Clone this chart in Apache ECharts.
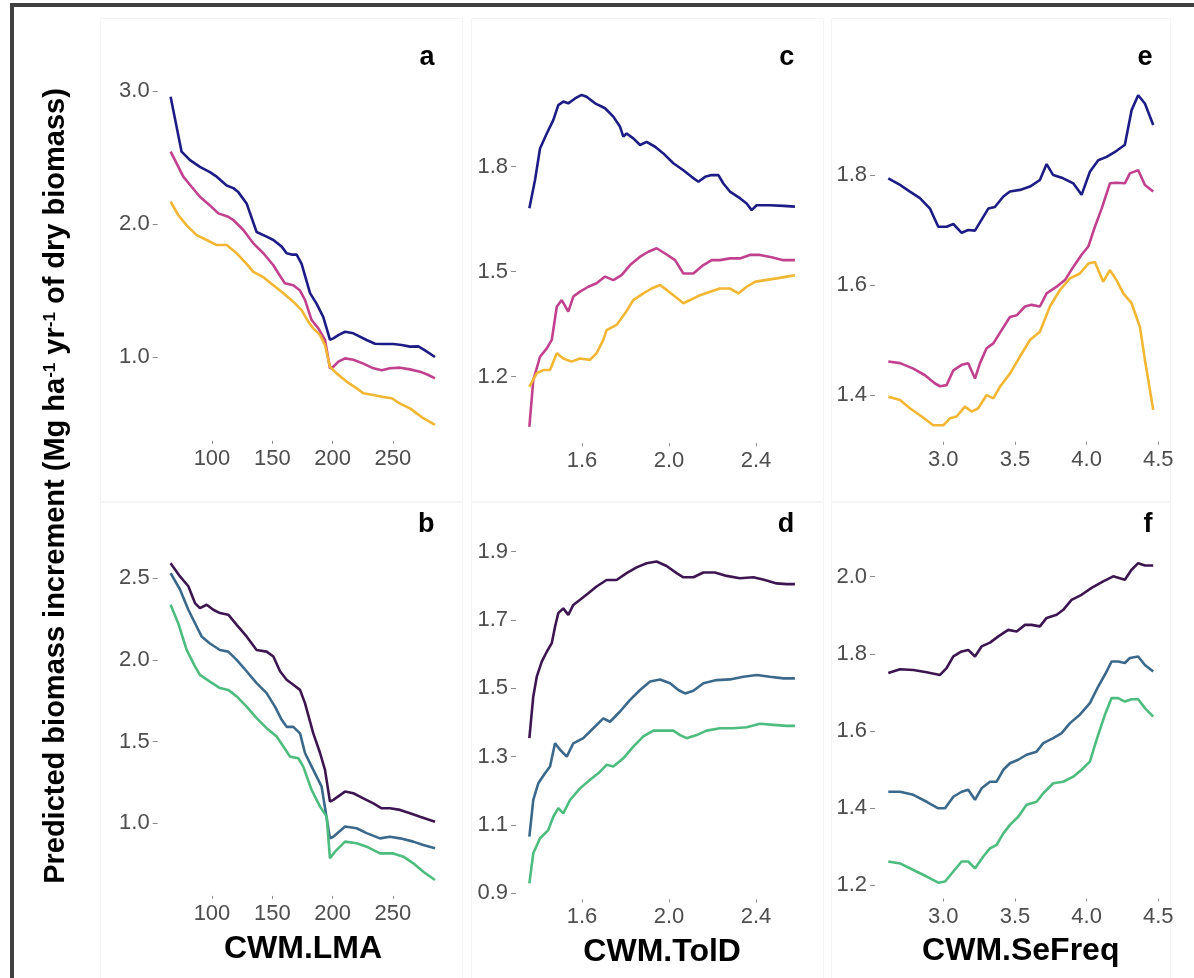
<!DOCTYPE html>
<html>
<head>
<meta charset="utf-8">
<script src="https://cdn.jsdelivr.net/npm/echarts@6/dist/echarts.min.js"></script>
<style>
  html, body { margin: 0; padding: 0; background: #ffffff; }
  #chart { width: 1194px; height: 978px; }
</style>
</head>
<body>
<div id="chart"></div>
<script>
// Predicted biomass increment along three community-weighted traits.
// Top row (a, c, e): three levels in a plasma palette; bottom row (b, d, f): viridis.

const yTitle = 'Predicted biomass increment (Mg ha{sup|-1} yr{sup|-1} of dry biomass)';
const xTitles = ['CWM.LMA', 'CWM.TolD', 'CWM.SeFreq'];
const panelLetters = ['a', 'b', 'c', 'd', 'e', 'f'];

const topColors = ['#1d1c86', '#c2418f', '#f2b633'];
const bottomColors = ['#3d1651', '#3a698c', '#4cbd7e'];

// tick labels
const lmaTicks = [100, 150, 200, 250];
const tolTicks = [1.6, 2.0, 2.4];
const seTicks = [3.0, 3.5, 4.0, 4.5];
const aYTicks = [1.0, 2.0, 3.0];
const bYTicks = [1.0, 1.5, 2.0, 2.5];
const cYTicks = [1.2, 1.5, 1.8];
const dYTicks = [0.9, 1.1, 1.3, 1.5, 1.7, 1.9];
const eYTicks = [1.4, 1.6, 1.8];
const fYTicks = [1.2, 1.4, 1.6, 1.8, 2.0];

// panel a : CWM.LMA
const aNavy = [[65.7,2.957],[74.8,2.544],[81.8,2.48],[90,2.43],[98.3,2.39],[103.9,2.356],[112.2,2.29],[117.7,2.27],[121.8,2.24],[128.7,2.155],[137,1.94],[145.3,1.905],[150.9,1.88],[157.8,1.83],[161.9,1.78],[166,1.77],[170.2,1.77],[174.3,1.70],[181.3,1.48],[186.8,1.40],[192.3,1.30],[197.8,1.13],[200.6,1.14],[204.8,1.165],[210.3,1.19],[217.2,1.178],[228.2,1.128],[235.2,1.10],[242.1,1.098],[250.4,1.098],[257.3,1.09],[264.2,1.078],[271.1,1.08],[276.6,1.05],[284.9,1.0]];
const aMagenta = [[65.7,2.544],[70.7,2.456],[76.2,2.356],[83.1,2.28],[90,2.205],[98.3,2.14],[105.3,2.08],[113.5,2.055],[117.7,2.03],[126,1.955],[134.3,1.855],[142.6,1.78],[150.9,1.69],[155,1.63],[160.5,1.554],[167.4,1.54],[173,1.50],[177.1,1.43],[182.6,1.278],[188.2,1.215],[193.7,1.128],[197.8,0.915],[200.6,0.927],[204.8,0.965],[210.3,0.99],[217.2,0.98],[225.5,0.95],[233.8,0.915],[240.7,0.90],[247.6,0.915],[255.9,0.92],[264.2,0.907],[272.5,0.89],[279.4,0.865],[284.9,0.84]];
const aYellow = [[65.7,2.168],[72,2.068],[79,1.99],[87.3,1.917],[95.6,1.88],[103.9,1.842],[112.2,1.842],[120.5,1.78],[128.7,1.70],[134.3,1.64],[142.6,1.60],[150.9,1.54],[159.2,1.48],[167.4,1.416],[174.3,1.353],[179.8,1.266],[184,1.215],[189.6,1.165],[193.7,1.09],[197.8,0.927],[203.3,0.877],[211.6,0.815],[220,0.764],[225.5,0.727],[233.8,0.714],[242.1,0.70],[249,0.69],[255.9,0.65],[264.2,0.614],[269.7,0.576],[275.2,0.54],[284.9,0.49]];

// panel b : CWM.LMA
const bPurple = [[65.7,2.59],[73.5,2.51],[80.4,2.45],[85.9,2.347],[90,2.316],[95.6,2.337],[101.1,2.306],[106.6,2.286],[113.5,2.276],[120.5,2.214],[128.7,2.143],[137,2.06],[145.3,2.05],[150.9,2.02],[156.4,1.93],[161.9,1.878],[167.4,1.847],[173,1.816],[177.1,1.735],[184,1.55],[189.6,1.43],[193.7,1.327],[197.8,1.133],[200.6,1.143],[210.3,1.194],[217.2,1.184],[225.5,1.153],[233.8,1.122],[240.7,1.092],[247.6,1.092],[255.9,1.082],[264.2,1.061],[272.5,1.04],[284.9,1.01]];
const bBlue = [[65.7,2.53],[73.5,2.43],[80.4,2.306],[87.3,2.204],[91.4,2.143],[98.3,2.10],[106.6,2.06],[113.5,2.05],[120.5,2.0],[128.7,1.93],[137,1.857],[145.3,1.796],[152.2,1.714],[157.8,1.633],[161.9,1.59],[167.4,1.59],[173,1.55],[177.1,1.43],[184,1.327],[190.9,1.224],[197.8,0.908],[200.6,0.918],[210.3,0.98],[219.9,0.97],[228.2,0.94],[239.3,0.908],[247.6,0.918],[255.9,0.908],[266.9,0.888],[275.2,0.867],[284.9,0.847]];
const bGreen = [[65.7,2.337],[72,2.224],[79,2.061],[85.9,1.96],[90,1.908],[98.3,1.867],[106.6,1.827],[113.5,1.816],[120.5,1.776],[128.7,1.714],[137,1.643],[145.3,1.582],[153.6,1.531],[159.2,1.47],[164.7,1.408],[171.6,1.398],[175.7,1.347],[182.6,1.204],[189.6,1.102],[195.1,1.041],[197.8,0.786],[202,0.827],[210.3,0.888],[219.9,0.878],[228.2,0.857],[239.3,0.816],[250.4,0.816],[258.7,0.796],[266.9,0.755],[275.2,0.704],[284.9,0.653]];

// panel c : CWM.TolD
const cNavy = [[1.358,1.681],[1.384,1.762],[1.407,1.852],[1.438,1.895],[1.468,1.933],[1.491,1.976],[1.514,1.986],[1.537,1.981],[1.568,1.995],[1.598,2.005],[1.621,2.0],[1.66,1.981],[1.706,1.967],[1.744,1.943],[1.775,1.914],[1.79,1.886],[1.805,1.895],[1.836,1.881],[1.867,1.862],[1.897,1.871],[1.936,1.857],[1.974,1.838],[2.02,1.81],[2.066,1.79],[2.104,1.771],[2.135,1.757],[2.166,1.771],[2.196,1.776],[2.227,1.776],[2.25,1.752],[2.28,1.729],[2.326,1.71],[2.357,1.695],[2.38,1.676],[2.403,1.69],[2.464,1.69],[2.526,1.688],[2.579,1.686]];
const cMagenta = [[1.358,1.057],[1.376,1.19],[1.407,1.257],[1.438,1.281],[1.461,1.305],[1.484,1.40],[1.507,1.419],[1.537,1.386],[1.56,1.429],[1.591,1.443],[1.629,1.457],[1.667,1.467],[1.706,1.486],[1.744,1.476],[1.782,1.49],[1.821,1.519],[1.867,1.543],[1.905,1.557],[1.943,1.567],[1.982,1.552],[2.028,1.533],[2.066,1.495],[2.112,1.495],[2.158,1.519],[2.196,1.533],[2.234,1.533],[2.28,1.538],[2.326,1.538],[2.372,1.548],[2.418,1.548],[2.472,1.541],[2.526,1.533],[2.579,1.533]];
const cYellow = [[1.358,1.171],[1.392,1.21],[1.422,1.219],[1.453,1.219],[1.484,1.267],[1.514,1.252],[1.552,1.243],[1.591,1.252],[1.637,1.248],[1.667,1.267],[1.698,1.305],[1.713,1.333],[1.759,1.348],[1.798,1.381],[1.836,1.419],[1.882,1.438],[1.92,1.452],[1.959,1.462],[1.989,1.448],[2.028,1.429],[2.066,1.41],[2.097,1.419],[2.143,1.433],[2.189,1.443],[2.234,1.452],[2.28,1.452],[2.319,1.438],[2.357,1.457],[2.395,1.471],[2.441,1.476],[2.495,1.481],[2.541,1.486],[2.579,1.49]];

// panel d : CWM.TolD
const dPurple = [[1.358,1.354],[1.376,1.476],[1.392,1.534],[1.415,1.578],[1.438,1.607],[1.461,1.632],[1.476,1.68],[1.491,1.72],[1.514,1.734],[1.537,1.715],[1.56,1.744],[1.591,1.759],[1.629,1.778],[1.667,1.798],[1.713,1.817],[1.759,1.817],[1.805,1.837],[1.851,1.854],[1.897,1.866],[1.943,1.871],[1.989,1.858],[2.035,1.837],[2.066,1.825],[2.112,1.825],[2.158,1.839],[2.211,1.839],[2.265,1.829],[2.326,1.822],[2.388,1.825],[2.441,1.817],[2.495,1.807],[2.541,1.805],[2.579,1.805]];
const dBlue = [[1.358,1.066],[1.376,1.173],[1.399,1.222],[1.43,1.251],[1.453,1.271],[1.476,1.339],[1.499,1.32],[1.53,1.30],[1.56,1.339],[1.606,1.354],[1.652,1.383],[1.698,1.412],[1.729,1.402],[1.775,1.432],[1.821,1.466],[1.867,1.495],[1.913,1.52],[1.959,1.526],[2.005,1.515],[2.043,1.495],[2.074,1.485],[2.112,1.493],[2.158,1.515],[2.219,1.524],[2.28,1.526],[2.342,1.534],[2.403,1.539],[2.464,1.534],[2.526,1.529],[2.579,1.529]];
const dGreen = [[1.358,0.929],[1.376,1.017],[1.407,1.061],[1.445,1.085],[1.468,1.124],[1.491,1.149],[1.514,1.134],[1.545,1.173],[1.591,1.207],[1.637,1.232],[1.675,1.251],[1.713,1.276],[1.744,1.271],[1.79,1.295],[1.836,1.329],[1.882,1.359],[1.928,1.376],[1.974,1.376],[2.02,1.376],[2.051,1.363],[2.081,1.354],[2.127,1.363],[2.173,1.376],[2.234,1.383],[2.296,1.383],[2.357,1.386],[2.418,1.396],[2.48,1.393],[2.541,1.39],[2.579,1.39]];

// panel e : CWM.SeFreq
const eNavy = [[2.616,1.794],[2.698,1.782],[2.767,1.77],[2.837,1.758],[2.907,1.739],[2.965,1.706],[3.023,1.706],[3.07,1.711],[3.128,1.695],[3.174,1.70],[3.221,1.699],[3.279,1.724],[3.314,1.739],[3.36,1.742],[3.419,1.761],[3.465,1.77],[3.535,1.773],[3.605,1.779],[3.674,1.791],[3.721,1.82],[3.767,1.80],[3.837,1.794],[3.907,1.785],[3.965,1.764],[4.023,1.806],[4.081,1.827],[4.14,1.833],[4.198,1.842],[4.267,1.855],[4.314,1.918],[4.36,1.945],[4.407,1.93],[4.465,1.891]];
const eMagenta = [[2.616,1.461],[2.698,1.458],[2.791,1.448],[2.872,1.436],[2.942,1.421],[2.977,1.416],[3.023,1.418],[3.07,1.445],[3.128,1.455],[3.174,1.458],[3.221,1.43],[3.256,1.458],[3.302,1.485],[3.349,1.494],[3.407,1.518],[3.465,1.542],[3.512,1.545],[3.57,1.561],[3.616,1.564],[3.674,1.561],[3.721,1.585],[3.791,1.597],[3.849,1.609],[3.907,1.633],[3.965,1.655],[4.012,1.67],[4.058,1.706],[4.105,1.739],[4.163,1.785],[4.209,1.786],[4.267,1.785],[4.302,1.803],[4.36,1.809],[4.407,1.782],[4.465,1.77]];
const eYellow = [[2.616,1.397],[2.698,1.391],[2.767,1.376],[2.849,1.361],[2.93,1.345],[3.0,1.345],[3.047,1.358],[3.093,1.361],[3.151,1.379],[3.198,1.37],[3.244,1.376],[3.302,1.40],[3.349,1.394],[3.395,1.415],[3.465,1.439],[3.535,1.47],[3.605,1.50],[3.674,1.515],[3.744,1.561],[3.814,1.591],[3.884,1.612],[3.953,1.621],[4.012,1.639],[4.058,1.642],[4.116,1.606],[4.163,1.627],[4.209,1.609],[4.256,1.585],[4.314,1.567],[4.372,1.524],[4.407,1.464],[4.465,1.373]];

// panel f : CWM.SeFreq
const fPurple = [[2.616,1.75],[2.698,1.76],[2.791,1.758],[2.884,1.752],[2.977,1.745],[3.023,1.763],[3.07,1.793],[3.128,1.806],[3.174,1.81],[3.221,1.793],[3.267,1.819],[3.326,1.829],[3.384,1.845],[3.453,1.862],[3.512,1.858],[3.57,1.875],[3.616,1.875],[3.674,1.871],[3.721,1.893],[3.791,1.901],[3.837,1.914],[3.895,1.94],[3.965,1.953],[4.035,1.971],[4.116,1.988],[4.186,2.001],[4.267,1.992],[4.314,2.018],[4.36,2.035],[4.407,2.029],[4.465,2.029]];
const fBlue = [[2.616,1.442],[2.698,1.442],[2.791,1.434],[2.884,1.416],[2.965,1.399],[3.012,1.399],[3.07,1.429],[3.128,1.442],[3.174,1.447],[3.221,1.421],[3.267,1.451],[3.326,1.468],[3.372,1.468],[3.419,1.499],[3.465,1.516],[3.523,1.525],[3.581,1.538],[3.651,1.546],[3.698,1.568],[3.767,1.581],[3.826,1.594],[3.884,1.62],[3.953,1.642],[4.023,1.672],[4.081,1.715],[4.14,1.754],[4.174,1.78],[4.221,1.78],[4.267,1.776],[4.302,1.789],[4.36,1.793],[4.407,1.771],[4.465,1.754]];
const fGreen = [[2.616,1.261],[2.698,1.256],[2.791,1.239],[2.884,1.222],[2.965,1.206],[3.012,1.209],[3.07,1.235],[3.128,1.261],[3.174,1.261],[3.221,1.243],[3.279,1.274],[3.326,1.295],[3.372,1.304],[3.419,1.334],[3.465,1.356],[3.523,1.377],[3.581,1.408],[3.651,1.416],[3.698,1.438],[3.767,1.464],[3.837,1.468],[3.907,1.481],[3.965,1.499],[4.023,1.52],[4.07,1.577],[4.128,1.642],[4.174,1.685],[4.221,1.685],[4.267,1.676],[4.314,1.682],[4.36,1.682],[4.407,1.659],[4.465,1.637]];

// Panel layout: grid box in pixels plus the (expanded) axis ranges.
const panels = [
  { letter: 'a', grid: [157.7, 80.4, 290.7, 360.4], x: [55, 296], y: [0.37, 3.08], xTicks: lmaTicks, yTicks: aYTicks, xDec: 0, lines: [aNavy, aMagenta, aYellow], colors: topColors, title: null },
  { letter: 'b', grid: [157.7, 547.5, 290.7, 348.4], x: [55, 296], y: [0.556, 2.687], xTicks: lmaTicks, yTicks: bYTicks, xDec: 0, lines: [bPurple, bBlue, bGreen], colors: bottomColors, title: xTitles[0] },
  { letter: 'c', grid: [516.1, 78.5, 292.1, 364.7], x: [1.297, 2.64], y: [1.01, 2.052], xTicks: tolTicks, yTicks: cYTicks, xDec: 1, lines: [cNavy, cMagenta, cYellow], colors: topColors, title: null },
  { letter: 'd', grid: [516.1, 545.5, 292.1, 353.9], x: [1.297, 2.64], y: [0.882, 1.918], xTicks: tolTicks, yTicks: dYTicks, xDec: 1, lines: [dPurple, dBlue, dGreen], colors: bottomColors, title: xTitles[1] },
  { letter: 'e', grid: [875.1, 78.8, 291.3, 363.0], x: [2.524, 4.557], y: [1.315, 1.975], xTicks: seTicks, yTicks: eYTicks, xDec: 1, lines: [eNavy, eMagenta, eYellow], colors: topColors, title: null },
  { letter: 'f', grid: [875.1, 547.0, 291.3, 351.5], x: [2.524, 4.557], y: [1.165, 2.077], xTicks: seTicks, yTicks: fYTicks, xDec: 1, lines: [fPurple, fBlue, fGreen], colors: bottomColors, title: xTitles[2] }
];

const FONT = '"Liberation Sans", Arial, Helvetica, sans-serif';
const TICK_GREY = '#4d4d4d';

const grids = [], xAxes = [], yAxes = [], series = [], graphics = [];

// faint outlines of the individual sub-figures
const subFrames = [[100, 18, 362, 483], [471, 18, 352, 483], [831, 18, 339, 483],
                   [100, 502, 362, 480], [471, 502, 352, 480], [831, 502, 339, 480]];
subFrames.forEach(r => graphics.push({
  type: 'rect', shape: { x: r[0] + 0.5, y: r[1] + 0.5, width: r[2], height: r[3] },
  style: { fill: null, stroke: '#f4f4f4', lineWidth: 1 }, silent: true, z: 0
}));

// outer frame
graphics.push({
  type: 'rect', shape: { x: 12, y: 5, width: 1400, height: 1200 },
  style: { fill: null, stroke: '#404040', lineWidth: 4 }, silent: true, z: 10
});

panels.forEach((p, i) => {
  grids.push({ left: p.grid[0], top: p.grid[1], width: p.grid[2], height: p.grid[3], containLabel: false });
  xAxes.push({
    type: 'value', gridIndex: i, min: p.x[0], max: p.x[1],
    axisLine: { show: false }, splitLine: { show: false },
    axisTick: { show: true, customValues: p.xTicks, length: 3, lineStyle: { color: '#8a8a8a', width: 1 } },
    axisLabel: {
      customValues: p.xTicks, margin: 7, color: TICK_GREY, fontSize: 22, fontFamily: FONT,
      formatter: v => Number(v).toFixed(p.xDec)
    },
    name: p.title || '', nameLocation: 'middle', nameGap: 37,
    nameTextStyle: { color: '#000', fontSize: 32, fontWeight: 'bold', fontFamily: FONT, verticalAlign: 'top' }
  });
  yAxes.push({
    type: 'value', gridIndex: i, min: p.y[0], max: p.y[1],
    axisLine: { show: false }, splitLine: { show: false },
    axisTick: { show: true, customValues: p.yTicks, length: 5, lineStyle: { color: '#8a8a8a', width: 1 } },
    axisLabel: {
      customValues: p.yTicks, margin: 8, color: TICK_GREY, fontSize: 22, fontFamily: FONT,
      formatter: v => Number(v).toFixed(1)
    }
  });
  p.lines.forEach((d, k) => series.push({
    type: 'line', xAxisIndex: i, yAxisIndex: i, data: d,
    showSymbol: false, symbol: 'none', smooth: false,
    lineStyle: { color: p.colors[k], width: 2.6 },
    z: 3 + k
  }));
  const right = p.grid[0] + p.grid[2] - 14;
  graphics.push({
    type: 'text', x: right, y: i % 2 === 0 ? 71 : 538,
    style: { text: p.letter, fill: '#000', font: 'bold 27px ' + FONT, textAlign: 'right', textVerticalAlign: 'bottom' },
    silent: true, z: 5
  });
});

// shared y title
graphics.push({
  type: 'text', x: 56, y: 486, rotation: Math.PI / 2,
  style: {
    text: yTitle, fill: '#000', font: 'bold 29px ' + FONT,
    textAlign: 'center', textVerticalAlign: 'middle',
    rich: {
      sup: { fontSize: 17, fontWeight: 'bold', fontFamily: FONT, fill: '#000', verticalAlign: 'top', padding: [0, 0, 12, 0] }
    }
  },
  silent: true, z: 5
});

const chart = echarts.init(document.getElementById('chart'), null, { renderer: 'canvas' });
chart.setOption({
  backgroundColor: '#ffffff',
  animation: false,
  grid: grids,
  xAxis: xAxes,
  yAxis: yAxes,
  series: series,
  graphic: graphics
});
</script>
</body>
</html>
